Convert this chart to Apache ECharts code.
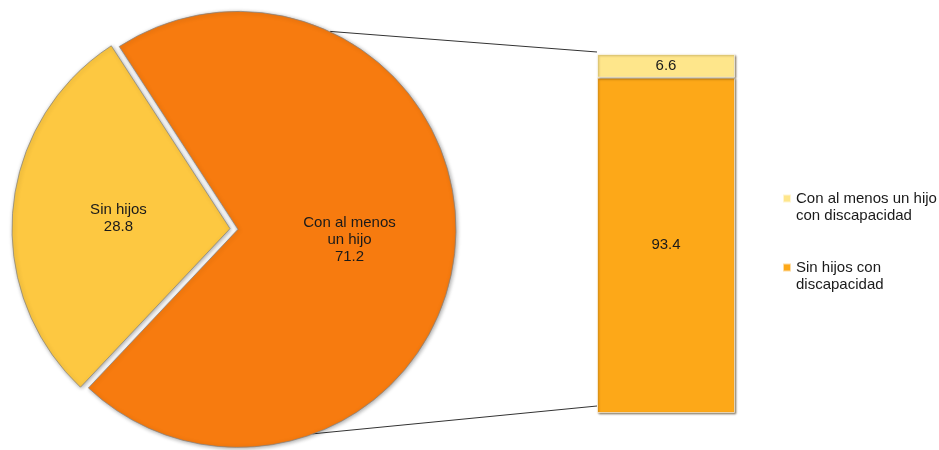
<!DOCTYPE html>
<html>
<head>
<meta charset="utf-8">
<script src="https://cdn.jsdelivr.net/npm/echarts@6/dist/echarts.min.js"></script>
<style>
  html, body { margin: 0; padding: 0; background: #fff; }
  #chart { width: 939px; height: 450px; }
</style>
</head>
<body>
<div id="chart"></div>
<script>
// pie: hogares con / sin hijos
const pieNames = ['Con al menos\nun hijo', 'Sin hijos']
const pieValues = [71.2, 28.8]
const pieColors = ['#F77B0F', '#FDC841']

// barra: desglose de "con al menos un hijo"
const barNames = ['Sin hijos con discapacidad', 'Con al menos un hijo con discapacidad']
const barValues = [93.4, 6.6]
const barColors = ['#FDA818', '#FEE68B']
const legendOrder = ['Con al menos un hijo con discapacidad', 'Sin hijos con discapacidad']
const legendText = ['Con al menos un hijo\ncon discapacidad', 'Sin hijos con\ndiscapacidad']

const font = "'Liberation Sans', Arial, sans-serif"
const pieCenter = [234, 229]
const pieRadius = 218
const barLeft = 597
const barTop = 54
const barWidth = 138
const barHeight = 359

const chart = echarts.init(document.getElementById('chart'))

let option = {
  animation: false,
  textStyle: { fontFamily: font },
  legend: {
    orient: 'vertical',
    left: 782,
    top: 189,
    padding: 0,
    itemWidth: 8,
    itemHeight: 34,
    itemGap: 33,
    // square sits on the first text line
    icon: 'path://M0,0H0.01V0.01H0Z M0,4.5H8V12.5H0Z M0,34H0.01V34.01H0Z',
    data: legendOrder,
    formatter: (name) => legendText[legendOrder.indexOf(name)],
    textStyle: { fontSize: 15, lineHeight: 17, color: '#1a1a1a', fontFamily: font }
  },
  grid: {
    left: barLeft,
    top: barTop,
    width: barWidth,
    height: barHeight
  },
  xAxis: {
    type: 'category',
    show: false,
    data: ['']
  },
  yAxis: {
    type: 'value',
    show: false,
    min: 0,
    max: 100
  },
  series: [
    {
      type: 'pie',
      center: pieCenter,
      radius: pieRadius,
      startAngle: 123,
      clockwise: true,
      selectedMode: 'multiple',
      selectedOffset: 4,
      emphasis: { disabled: true },
      label: {
        show: true,
        position: 'inside',
        formatter: '{b}\n{c}',
        fontSize: 15,
        lineHeight: 17,
        color: '#1a1a1a',
        fontFamily: font
      },
      labelLine: { show: false },
      itemStyle: {
        borderColor: 'rgba(130,130,130,0.7)',
        borderWidth: 1,
        shadowBlur: 4,
        shadowOffsetX: 1,
        shadowOffsetY: 1,
        shadowColor: 'rgba(0,0,0,0.35)'
      },
      data: pieNames.map((n, i) => ({
        name: n,
        value: pieValues[i],
        selected: true,
        itemStyle: { color: pieColors[i] }
      }))
    }
  ].concat(barNames.map((n, i) => ({
    type: 'bar',
    name: n,
    stack: 'total',
    barWidth: '100%',
    emphasis: { disabled: true },
    itemStyle: {
      color: barColors[i],
      borderColor: 'rgba(255,255,255,0.6)',
      borderWidth: 1,
      shadowBlur: 2,
      shadowOffsetX: 1,
      shadowOffsetY: 1,
      shadowColor: 'rgba(60,40,0,0.55)'
    },
    label: {
      show: true,
      position: 'inside',
      fontSize: 15,
      color: '#1a1a1a',
      fontFamily: font
    },
    data: [barValues[i]]
  })))
}
chart.setOption(option)

// lineas que unen el pastel con la barra
function connector (bearing, endY) {
  const a = bearing * Math.PI / 180
  const cx = pieCenter[0] + 4
  return {
    type: 'line',
    silent: true,
    shape: {
      x1: cx + pieRadius * Math.sin(a),
      y1: pieCenter[1] - pieRadius * Math.cos(a),
      x2: barLeft,
      y2: endY
    },
    style: { stroke: '#333', lineWidth: 1 }
  }
}
const yTop = chart.convertToPixel({ yAxisIndex: 0 }, 100)
const yBottom = chart.convertToPixel({ yAxisIndex: 0 }, 0)
chart.setOption({
  graphic: [connector(25, yTop - 2), connector(160, yBottom - 7)]
})
</script>
</body>
</html>
